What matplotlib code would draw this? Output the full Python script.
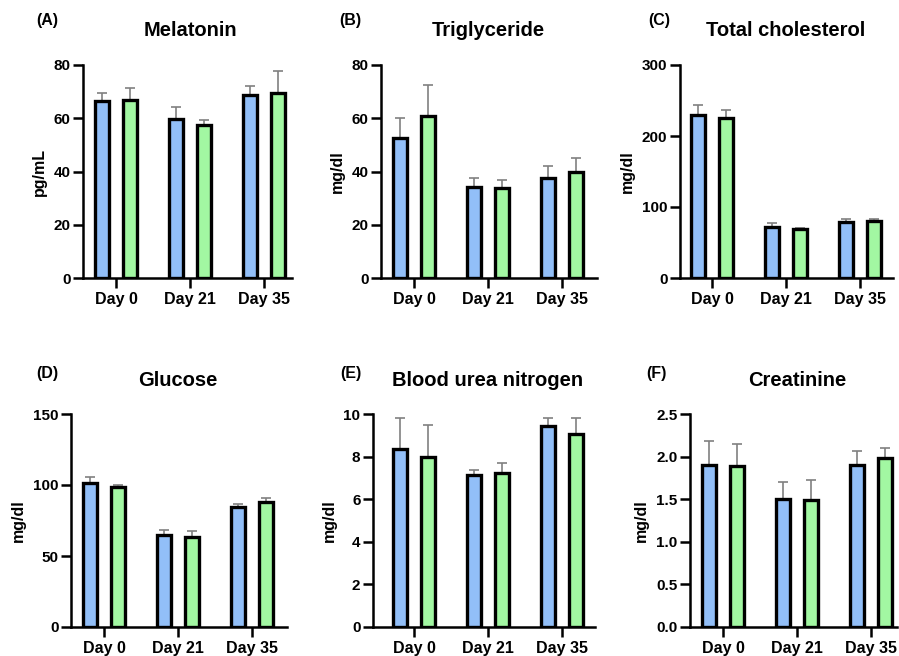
import numpy as np
import matplotlib
matplotlib.use("Agg")
import matplotlib.pyplot as plt
import matplotlib.transforms as mtransforms

plt.rcParams['font.family'] = ['Liberation Sans', 'DejaVu Sans']

days = ['Day 0', 'Day 21', 'Day 35']
titles = ['Melatonin', 'Triglyceride', 'Total cholesterol',
          'Glucose', 'Blood urea nitrogen', 'Creatinine']
letters = ['(A)', '(B)', '(C)', '(D)', '(E)', '(F)']
units = ['pg/mL', 'mg/dl', 'mg/dl', 'mg/dl', 'mg/dl', 'mg/dl']

# group means (blue, green) and upper error bar tops
melatonin_blue = [66.6, 59.8, 68.6]
melatonin_green = [67.0, 57.4, 69.6]
melatonin_blue_top = [69.4, 64.4, 72.0]
melatonin_green_top = [71.2, 59.3, 77.6]

trig_blue = [52.6, 34.0, 37.4]
trig_green = [61.0, 33.7, 39.8]
trig_blue_top = [60.2, 37.7, 42.2]
trig_green_top = [72.4, 36.8, 45.2]

chol_blue = [230, 72, 79.5]
chol_green = [226, 68.5, 80.5]
chol_blue_top = [243.5, 76.8, 83.4]
chol_green_top = [236.5, 70.6, 83.4]

gluc_blue = [101.2, 64.8, 84.3]
gluc_green = [98.4, 63.1, 87.8]
gluc_blue_top = [105.7, 68.3, 86.9]
gluc_green_top = [100.1, 67.3, 91.1]

bun_blue = [8.37, 7.14, 9.45]
bun_green = [7.96, 7.25, 9.06]
bun_blue_top = [9.8, 7.38, 9.8]
bun_green_top = [9.5, 7.69, 9.8]

creat_blue = [1.90, 1.50, 1.90]
creat_green = [1.89, 1.49, 1.98]
creat_blue_top = [2.18, 1.70, 2.06]
creat_green_top = [2.15, 1.72, 2.10]

blues = [melatonin_blue, trig_blue, chol_blue, gluc_blue, bun_blue, creat_blue]
greens = [melatonin_green, trig_green, chol_green, gluc_green, bun_green, creat_green]
blue_tops = [melatonin_blue_top, trig_blue_top, chol_blue_top,
             gluc_blue_top, bun_blue_top, creat_blue_top]
green_tops = [melatonin_green_top, trig_green_top, chol_green_top,
              gluc_green_top, bun_green_top, creat_green_top]

yticks = [[0, 20, 40, 60, 80], [0, 20, 40, 60, 80], [0, 100, 200, 300],
          [0, 50, 100, 150], [0, 2, 4, 6, 8, 10], [0.0, 0.5, 1.0, 1.5, 2.0, 2.5]]

BLUE = '#92BFF8'
GREEN = '#A2F7A2'

W, H = 899, 656
fig = plt.figure(figsize=(W / 100, H / 100), dpi=100)

# pixel layout: (axis left, axis right, Day 0 tick, top, zero line)
layout = [(83, 292, 116, 65, 278), (381, 597, 414, 65, 278), (680, 893, 712, 65, 278),
          (71, 287, 104, 414, 627), (373, 595, 414, 414, 627), (690, 897, 723, 414, 627)]
label_px = [(47, 20), (350, 20), (659, 20), (47, 374), (351, 374), (656, 374)]
unit_px = 74.0

x = np.arange(len(days))
bw = 0.19
off = 0.185

for i in range(6):
    left, right, d0, top, bot = layout[i]
    ax = fig.add_axes([left / W, 1 - bot / H, (right - left) / W, (bot - top) / H])
    xb = x - off
    xg = x + off
    b = np.array(blues[i]); g = np.array(greens[i])
    ax.bar(xb, b, bw, color=BLUE, edgecolor='black', linewidth=2.4, zorder=3)
    ax.bar(xg, g, bw, color=GREEN, edgecolor='black', linewidth=2.4, zorder=3)
    ax.errorbar(xb, b, yerr=[np.zeros(3), np.array(blue_tops[i]) - b], fmt='none',
                ecolor='#808080', elinewidth=1.2, capsize=3.5, capthick=1.2, zorder=2)
    ax.errorbar(xg, g, yerr=[np.zeros(3), np.array(green_tops[i]) - g], fmt='none',
                ecolor='#808080', elinewidth=1.2, capsize=3.5, capthick=1.2, zorder=2)

    ax.set_xlim((left - d0) / unit_px, (right - d0) / unit_px)
    yt = yticks[i]
    ax.set_ylim(yt[0], yt[-1])
    ax.set_yticks(yt)
    if i == 5:
        ax.set_yticklabels(['%.1f' % v for v in yt])
    ax.set_xticks(x)
    ax.set_xticklabels(days)
    for lab in ax.get_xticklabels():
        lab.set_fontweight('bold')
        lab.set_fontsize(11.5)
    for lab in ax.get_yticklabels():
        lab.set_fontweight('bold')
        lab.set_fontsize(11)
    ax.tick_params(axis='x', width=1.8, length=7, color='black', pad=3)
    ax.tick_params(axis='y', width=1.8, length=7, color='black', pad=2)
    for s in ['top', 'right']:
        ax.spines[s].set_visible(False)
    for s in ['left', 'bottom']:
        ax.spines[s].set_linewidth(1.8)
    ax.set_ylabel(units[i], fontsize=11.5, fontweight='bold', labelpad=5)

    trans = mtransforms.blended_transform_factory(ax.transData, ax.transAxes)
    ax.text(1, 1 + 34 / (bot - top), titles[i], transform=trans, ha='center', va='center',
            fontsize=14.5, fontweight='bold')
    lx, ly = label_px[i]
    fig.text(lx / W, 1 - ly / H, letters[i], ha='center', va='center',
             fontsize=11.5, fontweight='bold')

fig.savefig('out.png', dpi=100)
